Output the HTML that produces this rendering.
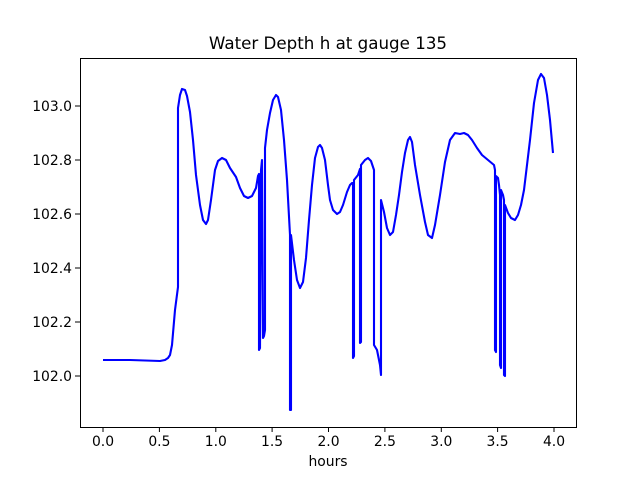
<!DOCTYPE html>
<html><head><meta charset="utf-8"><style>body{margin:0;background:#fff}svg{display:block}text{font-family:"DejaVu Sans","Liberation Sans",sans-serif;font-size:13.9px;fill:#000}</style></head>
<body>
<svg width="640" height="480" viewBox="0 0 640 480">
<rect width="640" height="480" fill="#fff"/>
<text x="328" y="49" text-anchor="middle" style="font-size:16.7px">Water Depth h at gauge 135</text>
<polyline fill="none" stroke="#0000ff" stroke-width="2.1" stroke-linejoin="round" points="103,360 130,360 160,361 165,360 168,358 170,355 172,345 175,310 178,287 178,108 180,95 182,89 185,90 187,96 190,112 193,140 196,175 200,205 203,220 206,224 208,220 211,200 215,170 218,161 222,158 226,160 230,168 236,177 240,188 244,196 248,198 252,196 256,188 258,176 259,174 259,350 260,348 261,170 262,160 263,338 264,336 265,330 265,148 267,130 270,113 273,100 276,95 278,97 281,110 284,140 287,180 290,235 290,410 291,410 291,235 294,260 297,280 300,288 303,282 306,258 309,220 312,185 315,158 318,147 320,145 322,148 325,160 328,185 330,200 333,210 337,214 340,212 343,205 347,192 350,185 352,183 353,183 353,358 354,356 354,180 358,175 360,169 360,343 361,342 361,165 365,160 368,158 371,161 373,167 374,170 374,345 377,350 380,365 381,375 381,200 384,212 387,228 390,235 393,232 396,215 399,195 402,172 405,153 408,140 410,137 412,142 415,165 420,195 425,222 428,235 432,238 435,225 440,195 445,162 450,140 455,133 460,134 464,133 468,135 472,140 477,148 482,155 488,160 494,165 495,170 495,350 496,352 496,176 498,178 499,185 500,195 500,365 501,368 501,190 503,195 504,200 504,375 505,376 505,205 508,213 511,218 515,220 518,215 521,205 524,190 527,165 530,140 534,103 538,80 541,74 544,78 547,95 550,120 553,153"/>
<rect x="80.5" y="58.5" width="496" height="369" fill="none" stroke="#000" stroke-width="1"/>
<g stroke="#000" stroke-width="1">
<line x1="103" y1="427" x2="103" y2="432"/><line x1="159.4" y1="427" x2="159.4" y2="432"/><line x1="215.8" y1="427" x2="215.8" y2="432"/><line x1="272.1" y1="427" x2="272.1" y2="432"/><line x1="328.5" y1="427" x2="328.5" y2="432"/><line x1="384.9" y1="427" x2="384.9" y2="432"/><line x1="441.3" y1="427" x2="441.3" y2="432"/><line x1="497.6" y1="427" x2="497.6" y2="432"/><line x1="554" y1="427" x2="554" y2="432"/>
<line x1="75" y1="376" x2="80" y2="376"/><line x1="75" y1="322" x2="80" y2="322"/><line x1="75" y1="268" x2="80" y2="268"/><line x1="75" y1="214" x2="80" y2="214"/><line x1="75" y1="160" x2="80" y2="160"/><line x1="75" y1="106" x2="80" y2="106"/>
</g>
<g text-anchor="middle">
<text x="103" y="446">0.0</text><text x="159.4" y="446">0.5</text><text x="215.8" y="446">1.0</text><text x="272.1" y="446">1.5</text><text x="328.5" y="446">2.0</text><text x="384.9" y="446">2.5</text><text x="441.3" y="446">3.0</text><text x="497.6" y="446">3.5</text><text x="554" y="446">4.0</text>
</g>
<g text-anchor="end">
<text x="72" y="381">102.0</text><text x="72" y="327">102.2</text><text x="72" y="273">102.4</text><text x="72" y="219">102.6</text><text x="72" y="165">102.8</text><text x="72" y="111">103.0</text>
</g>
<text x="328" y="466" text-anchor="middle">hours</text>
</svg>
</body></html>
